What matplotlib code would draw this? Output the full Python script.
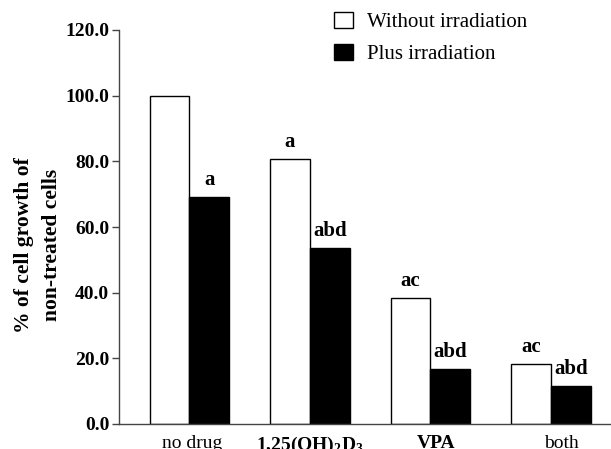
import matplotlib
matplotlib.use("Agg")
import matplotlib.pyplot as plt
from matplotlib.patches import Patch
import numpy as np

plt.rcParams['font.family'] = ['Liberation Serif', 'DejaVu Serif']
plt.rcParams['mathtext.fontset'] = 'custom'
plt.rcParams['mathtext.rm'] = 'Liberation Serif'
plt.rcParams['mathtext.bf'] = 'Liberation Serif:bold'

# data
groups = ["no drug", r"1,25(OH)$_\mathbf{2}$D$_\mathbf{3}$", "VPA", "both"]
group_bold = [False, True, True, False]
without_irr = [100.0, 80.7, 38.4, 18.3]
plus_irr = [69.2, 53.6, 16.8, 11.6]
without_marks = ["", "a", "ac", "ac"]
plus_marks = ["a", "abd", "abd", "abd"]
yticks = [0, 20, 40, 60, 80, 100, 120]

W, H = 611, 449
fig = plt.figure(figsize=(W / 100, H / 100), dpi=100)
ax = fig.add_axes([119 / W, (H - 424) / H, (W - 119) / W + 0.01, (424 - 30) / H])

x = np.arange(len(groups))
bw = 0.33
b1 = ax.bar(x - bw / 2, without_irr, bw, color='white', edgecolor='black', linewidth=1.0)
b2 = ax.bar(x + bw / 2, plus_irr, bw, color='black', edgecolor='black', linewidth=1.0)

for bars, marks in ((b1, without_marks), (b2, plus_marks)):
    for rect, m in zip(bars, marks):
        if m:
            ax.annotate(m, (rect.get_x() + rect.get_width() / 2, rect.get_height()),
                        xytext=(0, 8.5), textcoords='offset points',
                        ha='center', va='baseline', fontsize=15, fontweight='bold')

ax.set_xlim(-0.585, 3.47 + 0.08)
ax.set_ylim(0, 120)
ax.set_yticks(yticks)
ax.set_yticklabels([f"{v:.1f}" for v in yticks], fontsize=14, fontweight='bold')
ax.tick_params(axis='y', length=5, width=1, pad=2, color='#444444')
# category labels sit slightly right of the bar pairs in the reference
ax.set_xticks(x + np.array([0.02, 0.0, 0.05, 0.09]))
ax.set_xticklabels(groups, fontsize=14)
for lab, b in zip(ax.get_xticklabels(), group_bold):
    lab.set_fontweight('bold' if b else 'normal')
ax.tick_params(axis='x', length=0, pad=8)

for s in ('top', 'right'):
    ax.spines[s].set_visible(False)
for s in ('left', 'bottom'):
    ax.spines[s].set_color('#444444')
    ax.spines[s].set_linewidth(1.0)

fig.text(38 / W, 1 - 245 / H, "% of cell growth of\nnon-treated cells", rotation=90,
         ha='center', va='center', multialignment='center', fontsize=15.5,
         fontweight='bold', linespacing=1.55)

handles = [Patch(facecolor='white', edgecolor='black', linewidth=1.0),
           Patch(facecolor='black', edgecolor='black')]
fig.legend(handles, ["Without irradiation", "Plus irradiation"], loc='upper left',
           bbox_to_anchor=(334 / W, 1 - 12 / H), frameon=False, fontsize=15,
           borderpad=0, borderaxespad=0, handlelength=0.9, handleheight=0.8,
           handletextpad=0.7, labelspacing=0.55)

fig.savefig("out.png", dpi=100)
